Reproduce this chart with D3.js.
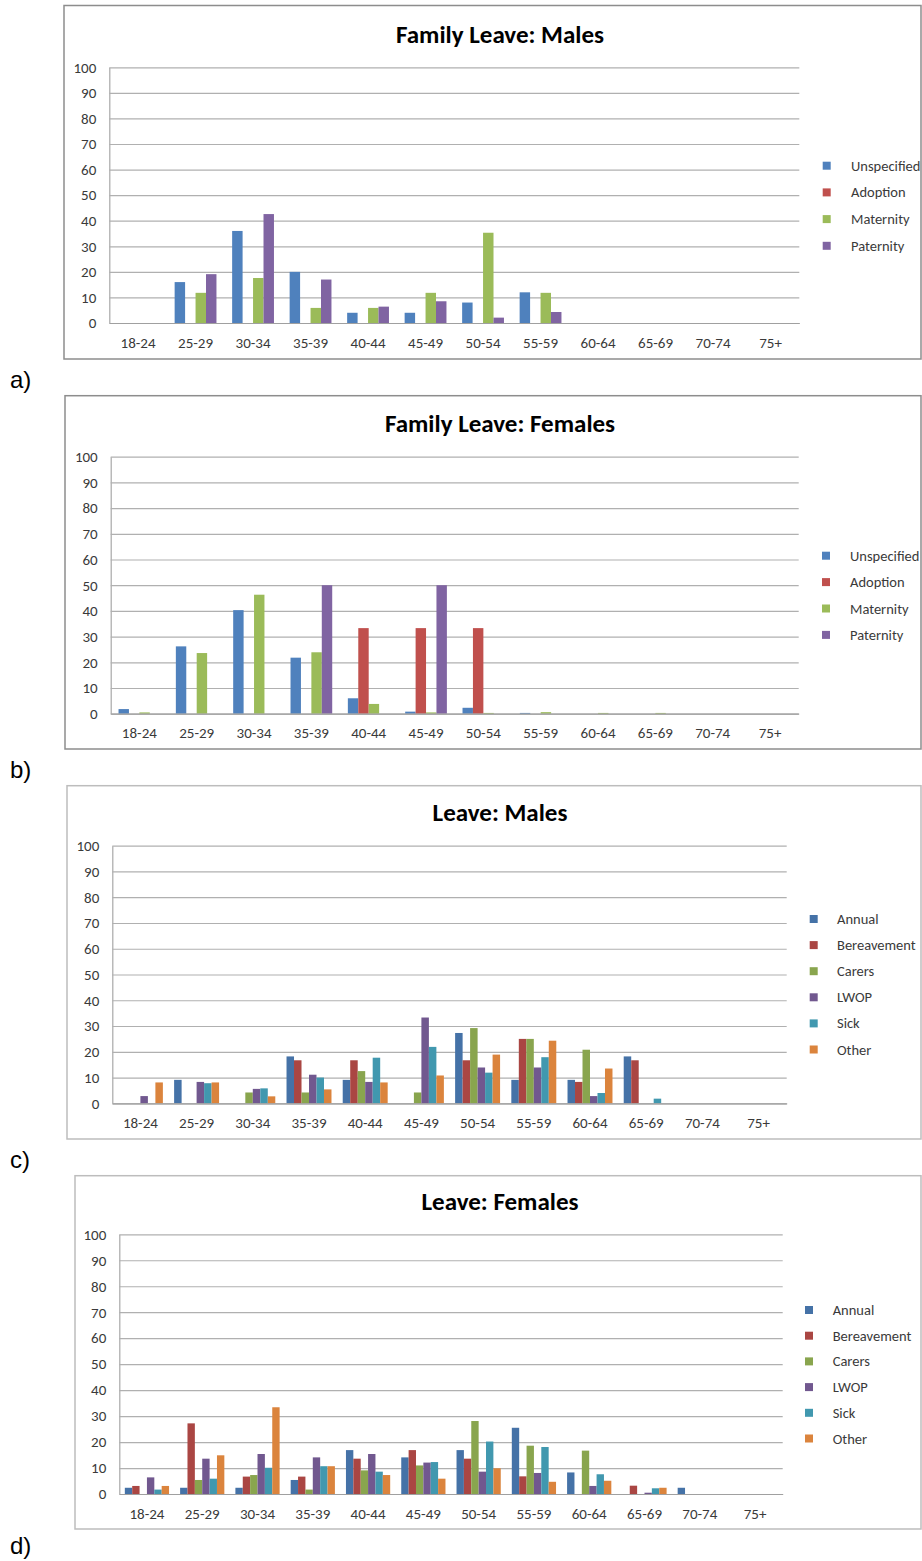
<!DOCTYPE html>
<html>
<head>
<meta charset="utf-8">
<script src="https://cdn.jsdelivr.net/npm/d3@7/dist/d3.min.js"></script>
<style>
  html, body { margin: 0; padding: 0; background: #fff; }
  svg { display: block; }
  .tick text { font-family: Carlito, Lato, "Open Sans", sans-serif; font-size: 15px; fill: #3a3a3a; }
  .title { font-family: Carlito, Lato, "Open Sans", sans-serif; font-weight: 700; font-size: 25px; fill: #000; }
  .legend text { font-family: Carlito, Lato, "Open Sans", sans-serif; font-size: 14.5px; fill: #3a3a3a; }
  .panel-label { font-family: "Liberation Sans", Arial, sans-serif; font-size: 24px; fill: #000; }
</style>
</head>
<body>
<svg id="chart" width="922" height="1561"></svg>
<script>
// Age bands on the x axis of every panel
const ageGroups = ["18-24","25-29","30-34","35-39","40-44","45-49","50-54","55-59","60-64","65-69","70-74","75+"];
const yTickValues = [0,10,20,30,40,50,60,70,80,90,100];

// Family leave types
const familySeries = ["Unspecified","Adoption","Maternity","Paternity"];
// General leave types
const leaveSeries = ["Annual","Bereavement","Carers","LWOP","Sick","Other"];

// a) Family leave, males (% of each leave type by age band)
const famMaleUnspecified = [0,16,36,20,4,4,8,12,0,0,0,0];
const famMaleAdoption    = [0,0,0,0,0,0,0,0,0,0,0,0];
const famMaleMaternity   = [0,11.8,17.6,5.9,5.9,11.8,35.3,11.8,0,0,0,0];
const famMalePaternity   = [0,19.1,42.6,17.0,6.4,8.5,2.1,4.3,0,0,0,0];

// b) Family leave, females
const famFemaleUnspecified = [1.8,26.2,40.3,21.8,6.0,0.8,2.3,0.3,0,0,0,0];
const famFemaleAdoption    = [0,0,0,0,33.3,33.3,33.3,0,0,0,0,0];
const famFemaleMaternity   = [0.5,23.6,46.3,23.9,3.8,0.5,0.3,0.6,0.3,0.3,0,0];
const famFemalePaternity   = [0,0,0,50,0,50,0,0,0,0,0,0];

// c) Leave, males
const leaveMaleAnnual      = [0,9.1,0,18.2,9.1,0,27.3,9.1,9.1,18.2,0,0];
const leaveMaleBereavement = [0,0,0,16.7,16.7,0,16.7,25,8.3,16.7,0,0];
const leaveMaleCarers      = [0,0,4.2,4.2,12.5,4.2,29.2,25,20.8,0,0,0];
const leaveMaleLWOP        = [2.8,8.3,5.6,11.1,8.3,33.3,13.9,13.9,2.8,0,0,0];
const leaveMaleSick        = [0,7.8,5.8,10.0,17.7,21.9,11.9,17.9,4.0,1.8,0,0];
const leaveMaleOther       = [8.1,8.1,2.7,5.4,8.1,10.8,18.9,24.3,13.5,0,0,0];

// d) Leave, females
const leaveFemaleAnnual      = [2.4,2.4,2.4,5.4,16.9,14.1,16.9,25.5,8.3,0,2.4,0];
const leaveFemaleBereavement = [3.1,27.2,6.7,6.7,13.6,16.9,13.6,6.8,0,3.2,0,0];
const leaveFemaleCarers      = [0,5.4,7.3,1.7,9.1,11.0,28.1,18.6,16.7,0,0,0];
const leaveFemaleLWOP        = [6.4,13.6,15.4,14.1,15.4,12.1,8.6,8.1,3.1,0.5,0,0];
const leaveFemaleSick        = [1.7,5.9,10.1,10.7,8.6,12.3,20.2,18.1,7.6,2.2,0,0];
const leaveFemaleOther       = [3.1,14.9,33.4,10.7,7.3,5.9,9.9,4.7,5.1,2.4,0,0];

const familyColors = ["#4F81BD","#C0504D","#9BBB59","#8064A2"];
const leaveColors  = ["#4572A7","#AA4643","#89A54E","#71588F","#4198AF","#DB843D"];

const panels = [
  {
    label: "a)", title: "Family Leave: Males",
    series: familySeries, colors: familyColors,
    values: [famMaleUnspecified, famMaleAdoption, famMaleMaternity, famMalePaternity],
    frame: {x0: 64, y0: 5.5, x1: 921, y1: 359}, frameColor: "#8d8d8d",
    plot: {left: 109.3, top: 67.3, right: 799.3, bottom: 323},
    titleY: 42.5, legend: {x: 826.7, tx: 851, y: 165.7, step: 26.7}, labelY: 388
  },
  {
    label: "b)", title: "Family Leave: Females",
    series: familySeries, colors: familyColors,
    values: [famFemaleUnspecified, famFemaleAdoption, famFemaleMaternity, famFemalePaternity],
    frame: {x0: 65, y0: 395.7, x1: 921, y1: 749}, frameColor: "#8d8d8d",
    plot: {left: 110.7, top: 456.7, right: 798.7, bottom: 713.7},
    titleY: 432, legend: {x: 826, tx: 850, y: 555.7, step: 26.4}, labelY: 778
  },
  {
    label: "c)", title: "Leave: Males",
    series: leaveSeries, colors: leaveColors,
    values: [leaveMaleAnnual, leaveMaleBereavement, leaveMaleCarers, leaveMaleLWOP, leaveMaleSick, leaveMaleOther],
    frame: {x0: 67, y0: 785.7, x1: 921, y1: 1139}, frameColor: "#bdbdbd",
    plot: {left: 112.3, top: 845.7, right: 786.7, bottom: 1103.3},
    titleY: 821, legend: {x: 813.7, tx: 837, y: 919, step: 26.1}, labelY: 1168
  },
  {
    label: "d)", title: "Leave: Females",
    series: leaveSeries, colors: leaveColors,
    values: [leaveFemaleAnnual, leaveFemaleBereavement, leaveFemaleCarers, leaveFemaleLWOP, leaveFemaleSick, leaveFemaleOther],
    frame: {x0: 75, y0: 1175.7, x1: 921, y1: 1529}, frameColor: "#bdbdbd",
    plot: {left: 119.3, top: 1234.3, right: 782.7, bottom: 1494},
    titleY: 1210, legend: {x: 809, tx: 832.7, y: 1310, step: 25.7}, labelY: 1554
  }
];

const svg = d3.select("#chart");

panels.forEach(p => {
  const g = svg.append("g");

  // chart frame
  g.append("rect")
    .attr("x", p.frame.x0).attr("y", p.frame.y0)
    .attr("width", p.frame.x1 - p.frame.x0).attr("height", p.frame.y1 - p.frame.y0)
    .attr("fill", "#fff").attr("stroke", p.frameColor).attr("stroke-width", 1.5);

  const w = p.plot.right - p.plot.left;
  const h = p.plot.bottom - p.plot.top;

  const x0 = d3.scaleBand().domain(ageGroups).range([0, w]).padding(0);
  const x1 = d3.scaleBand().domain(p.series).range([0, x0.bandwidth()])
    .paddingInner(0).paddingOuter(0.75);
  const y = d3.scaleLinear().domain([0, 100]).range([h, 0]);

  const plot = g.append("g").attr("transform", `translate(${p.plot.left},${p.plot.top})`);

  // horizontal gridlines + y labels
  const yAxis = plot.append("g")
    .call(d3.axisLeft(y).tickValues(yTickValues).tickSizeInner(-w).tickSizeOuter(0).tickPadding(13));
  yAxis.select(".domain").attr("stroke", "#a8a8a8").attr("stroke-width", 1.2);
  yAxis.selectAll(".tick line").attr("stroke", "#b0b0b0").attr("stroke-width", 1.2);

  // bars
  p.series.forEach((s, si) => {
    plot.append("g").selectAll("rect")
      .data(ageGroups.map((a, i) => ({age: a, v: p.values[si][i]})).filter(d => d.v > 0))
      .join("rect")
      .attr("x", d => x0(d.age) + x1(s))
      .attr("y", d => y(d.v))
      .attr("width", x1.bandwidth())
      .attr("height", d => h - y(d.v))
      .attr("fill", p.colors[si]);
  });

  // category axis
  const xAxis = plot.append("g").attr("transform", `translate(0,${h})`)
    .call(d3.axisBottom(x0).tickSize(0).tickPadding(14));
  xAxis.select(".domain").attr("stroke", "#a0a0a0").attr("stroke-width", 1.2);

  // title
  g.append("text").attr("class", "title")
    .attr("x", 500).attr("y", p.titleY).attr("text-anchor", "middle").text(p.title);

  // legend
  const lg = g.append("g").attr("class", "legend");
  p.series.forEach((s, si) => {
    const cy = p.legend.y + si * p.legend.step;
    lg.append("rect").attr("x", p.legend.x - 4).attr("y", cy - 4)
      .attr("width", 8).attr("height", 8).attr("fill", p.colors[si]);
    lg.append("text").attr("x", p.legend.tx).attr("y", cy).attr("dy", "0.35em").text(s);
  });

  // panel letter
  svg.append("text").attr("class", "panel-label")
    .attr("x", 10).attr("y", p.labelY).text(p.label);
});
</script>
</body>
</html>
